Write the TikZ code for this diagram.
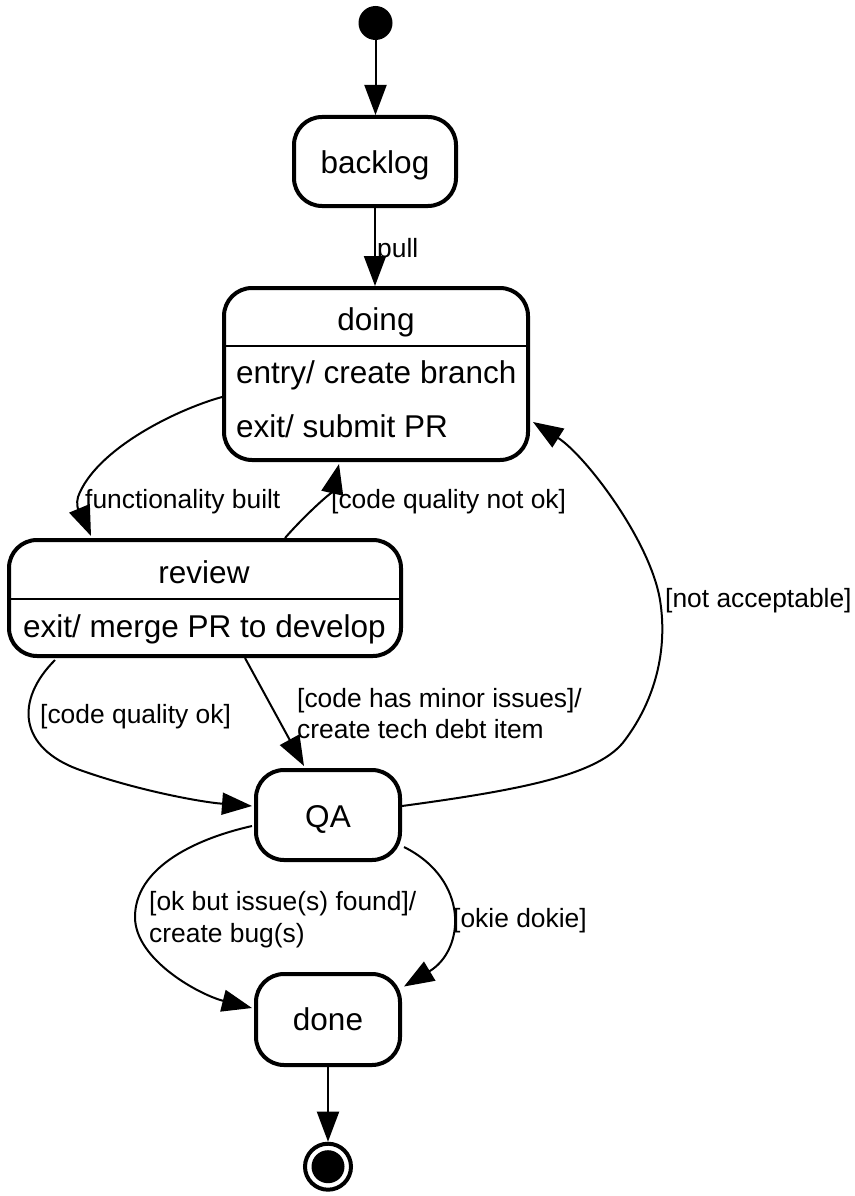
\documentclass[tikz,border=0pt]{standalone}
\usepackage{fontspec}
\setmainfont{Liberation Sans}
\usetikzlibrary{arrows.meta,calc}
\begin{document}
\begin{tikzpicture}[x=1pt,y=-1pt,
  statebox/.style={draw, line width=4pt, rounded corners=28pt, inner sep=0pt, fill=white},
  stxt/.style={font=\fontsize{31.5}{38}\selectfont, inner sep=0pt, anchor=base},
  ctxt/.style={font=\fontsize{31.5}{38}\selectfont, inner sep=0pt, anchor=base west},
  lbl/.style={font=\fontsize{26.4}{31}\selectfont, inner sep=0pt, anchor=base west},
  conn/.style={line width=2pt, -{Triangle[length=30pt,width=22pt]}},
  divider/.style={line width=2pt}
]
\useasboundingbox (0,0) rectangle (854,1196);

% states
\node[circle, fill, minimum size=34pt, inner sep=0pt] (init) at (375.5,23) {};
\node[statebox, minimum width=162pt, minimum height=89pt] (backlog) at (375,161.5) {};
\node[statebox, minimum width=304pt, minimum height=172pt] (doing) at (376,374) {};
\node[statebox, minimum width=392pt, minimum height=116pt] (review) at (205,598) {};
\node[statebox, minimum width=144pt, minimum height=90pt] (QA) at (328,815) {};
\node[statebox, minimum width=144pt, minimum height=91pt] (done) at (328,1019.5) {};
\node[circle, draw, line width=4pt, minimum size=46pt, inner sep=0pt] (final) at (328,1166.7) {};
\node[circle, fill, minimum size=33pt, inner sep=0pt] (finalDot) at (final.center) {};

% compartments
\coordinate (sepDoing) at (376,346);
\coordinate (sepReview) at (205,599);
\draw[divider] (doing.west |- sepDoing) -- (doing.east |- sepDoing);
\draw[divider] (review.west |- sepReview) -- (review.east |- sepReview);

% state texts
\node[stxt] (backlogT) at (375,173) {backlog};
\node[stxt] (doingT) at (376,330) {doing};
\node[ctxt] (doingEntry) at (236,383) {entry/ create branch};
\node[ctxt] (doingExit) at (236,437) {exit/ submit PR};
\node[stxt] (reviewT) at (204,583) {review};
\node[ctxt] (reviewExit) at (23,637) {exit/ merge PR to develop};
\node[stxt] (qaT) at (328,827) {QA};
\node[stxt] (doneT) at (328,1030) {done};

% connectors
\draw[conn] (init.south) -- (init.south |- backlog.north);
\draw[conn] (backlog.south) -- (backlog.south |- doing.north);
\draw[conn] ($(doing.west)+(0,23)$) .. controls (175,410) and (95,450) .. (78,497)
  .. controls (74,510) and (86,524) .. ($(review.north west)+(84,-2)$);
\draw[conn] ($(review.north)+(80,0)$) .. controls (305,515) and (333,490) .. ($(doing.south)+(-37,2)$);
\draw[conn] ($(review.south)+(40,0)$) -- ($(QA.north)+(-24,-2)$);
\draw[conn] ($(review.south west)+(48,2)$) .. controls (15,700) and (18,748) .. (80,770)
  .. controls (136,790) and (200,802) .. ($(QA.west)+(-2,-9)$);
\draw[conn] ($(QA.east)+(0,-9)$) .. controls (520,790) and (600,775) .. (625,740)
  .. controls (655,700) and (668,650) .. (660,600)
  .. controls (650,540) and (585,455) .. ($(doing.east)+(3,48)$);
\draw[conn] ($(QA.west)+(-2,11)$) .. controls (190,840) and (135,870) .. (135,917)
  .. controls (135,960) and (200,995) .. ($(done.west)+(-2,-11.5)$);
\draw[conn] ($(QA.east)+(2,32)$) .. controls (470,880) and (465,950) .. ($(done.east)+(2,-33)$);
\draw[conn] (done.south) -- (final.north);

% labels
\node[lbl] (lPull) at (377,257) {pull};
\node[lbl] (lFunc) at (85,508) {functionality built};
\node[lbl] (lNotOk) at (331,508) {[code quality not ok]};
\node[lbl] (lOk) at (40,723) {[code quality ok]};
\node[lbl] (lMinorA) at (297,707) {[code has minor issues]/};
\node[lbl] (lMinorB) at (297,738) {create tech debt item};
\node[lbl] (lNotAcc) at (665,607) {[not acceptable]};
\node[lbl] (lBugA) at (149,910) {[ok but issue(s) found]/};
\node[lbl] (lBugB) at (149,942) {create bug(s)};
\node[lbl] (lOkie) at (453,927) {[okie dokie]};
\end{tikzpicture}
\end{document}
